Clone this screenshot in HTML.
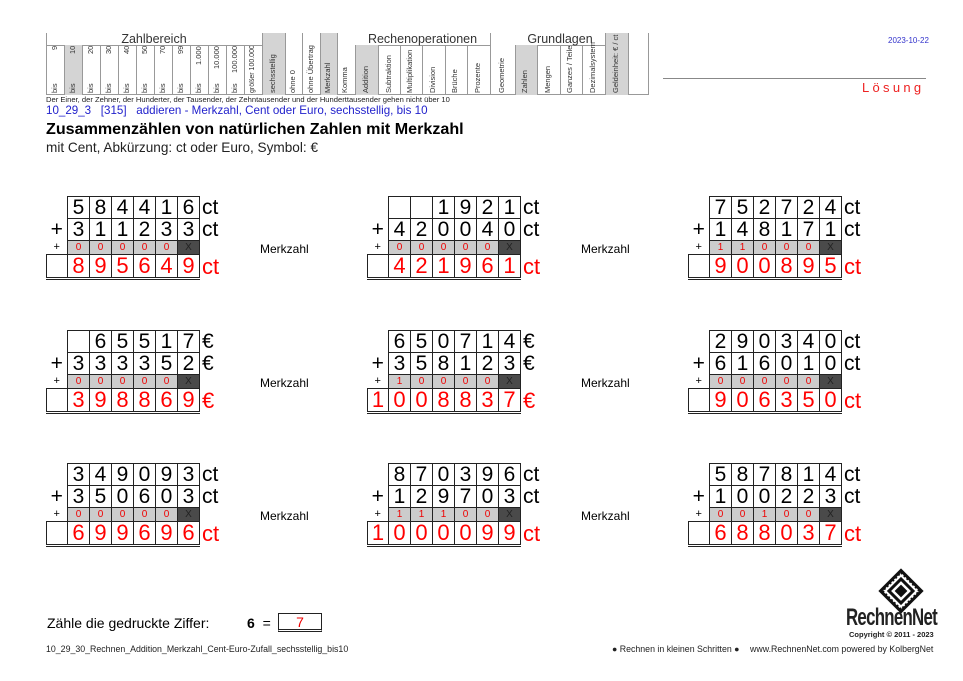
<!DOCTYPE html>
<html><head><meta charset="utf-8">
<style>
*{margin:0;padding:0;box-sizing:border-box}
body{width:963px;height:681px;background:#fff;position:relative;overflow:hidden;font-family:"Liberation Sans",sans-serif;color:#000}
.a{position:absolute;white-space:nowrap}
.col{position:absolute;border-left:1px solid #999;top:45px;height:50px}
.sh{background:#d4d4d4}
.v{position:absolute;writing-mode:vertical-rl;transform:rotate(180deg);font-size:7.5px;color:#333;line-height:1;top:46px;height:47px;text-align:start;overflow:hidden;white-space:nowrap}
.t{text-align:end;height:46px}
table{position:absolute;border-collapse:collapse;font-size:21px;line-height:1}
td{width:22px;height:22px;text-align:center;vertical-align:middle;padding:0}
td.c{border:1px solid #222}
td.l{width:21px;border:none}
td.u{width:30px;text-align:left;padding-left:2px;border:none}
tr.k td{height:14px;font-size:10px;color:#e00}
tr.k td.c{background:#ccc}
tr.k td.x{background:#4a4a4a;color:#222}
tr.r td{color:#f00;font-size:22px}
tr.r td.c, tr.r td.lb{border:1px solid #222;border-bottom:3px double #222}
tr.r td.u{color:#f00}
.mz{position:absolute;font-size:12px}
</style></head><body>

<div class="a" style="left:46px;top:33px;width:603px;height:62px;border:1px solid #999;border-top:none"></div>
<div class="a" style="left:46px;top:45px;width:216px;border-top:1px solid #999"></div>
<div class="a" style="left:355px;top:45px;width:135px;border-top:1px solid #999"></div>
<div class="a" style="left:515px;top:45px;width:90px;border-top:1px solid #999"></div>
<div class="a" style="left:46px;top:32px;width:216px;text-align:center;font-size:12.5px;color:#333">Zahlbereich</div>
<div class="a" style="left:355px;top:32px;width:135px;text-align:center;font-size:12.5px;color:#333">Rechenoperationen</div>
<div class="a" style="left:515px;top:32px;width:90px;text-align:center;font-size:12.5px;color:#333">Grundlagen</div>

<div class="col" style="left:46px;width:18px"></div>
<div class="col sh" style="left:64px;width:18px"></div>
<div class="col" style="left:82px;width:18px"></div>
<div class="col" style="left:100px;width:18px"></div>
<div class="col" style="left:118px;width:18px"></div>
<div class="col" style="left:136px;width:18px"></div>
<div class="col" style="left:154px;width:18px"></div>
<div class="col" style="left:172px;width:18px"></div>
<div class="col" style="left:190px;width:18px"></div>
<div class="col" style="left:208px;width:18px"></div>
<div class="col" style="left:226px;width:18px"></div>
<div class="col" style="left:244px;width:18px"></div>
<div class="col sh" style="left:262px;width:23px;top:33px;height:62px"></div>
<div class="col" style="left:285px;width:17px;top:33px;height:62px"></div>
<div class="col" style="left:302px;width:18px;top:33px;height:62px"></div>
<div class="col sh" style="left:320px;width:17px;top:33px;height:62px"></div>
<div class="col" style="left:337px;width:18px;top:33px;height:62px"></div>
<div class="col sh" style="left:355px;width:23px"></div>
<div class="col" style="left:378px;width:22px"></div>
<div class="col" style="left:400px;width:22px"></div>
<div class="col" style="left:422px;width:23px"></div>
<div class="col" style="left:445px;width:22px"></div>
<div class="col" style="left:467px;width:23px"></div>
<div class="col" style="left:490px;width:25px;top:33px;height:62px"></div>
<div class="col sh" style="left:515px;width:22px"></div>
<div class="col" style="left:537px;width:23px"></div>
<div class="col" style="left:560px;width:22px"></div>
<div class="col" style="left:582px;width:23px"></div>
<div class="col sh" style="left:605px;width:23px;top:33px;height:62px"></div>
<div class="col" style="left:628px;width:21px;top:33px;height:62px"></div>

<div class="v t" style="left:51px">9</div>
<div class="v t" style="left:69px">10</div>
<div class="v t" style="left:87px">20</div>
<div class="v t" style="left:105px">30</div>
<div class="v t" style="left:123px">40</div>
<div class="v t" style="left:141px">50</div>
<div class="v t" style="left:159px">70</div>
<div class="v t" style="left:177px">99</div>
<div class="v t" style="left:195px;height:30px">1.000</div>
<div class="v t" style="left:213px;height:30px">10.000</div>
<div class="v t" style="left:231px;height:33px">100.000</div>
<div class="v" style="left:249px;font-size:7px">größer 100.000</div>
<div class="v" style="left:51px">bis</div>
<div class="v" style="left:69px">bis</div>
<div class="v" style="left:87px">bis</div>
<div class="v" style="left:105px">bis</div>
<div class="v" style="left:123px">bis</div>
<div class="v" style="left:141px">bis</div>
<div class="v" style="left:159px">bis</div>
<div class="v" style="left:177px">bis</div>
<div class="v" style="left:195px">bis</div>
<div class="v" style="left:213px">bis</div>
<div class="v" style="left:231px">bis</div>
<div class="v" style="left:269px">sechsstellig</div>
<div class="v" style="left:289px">ohne 0</div>
<div class="v" style="left:307px;top:35px;height:58px">ohne Übertrag</div>
<div class="v" style="left:324px">Merkzahl</div>
<div class="v" style="left:341px">Komma</div>
<div class="v" style="left:362px">Addition</div>
<div class="v" style="left:385px">Subtraktion</div>
<div class="v" style="left:406px">Multiplikation</div>
<div class="v" style="left:429px">Division</div>
<div class="v" style="left:451px">Brüche</div>
<div class="v" style="left:474px">Prozente</div>
<div class="v" style="left:498px">Geometrie</div>
<div class="v" style="left:521px">Zahlen</div>
<div class="v" style="left:544px">Mengen</div>
<div class="v" style="left:566px">Ganzes / Teile</div>
<div class="v" style="left:589px;top:40px;height:53px">Dezimalsystem</div>
<div class="v" style="left:612px;top:34px;height:59px">Geldeinheit: € / ct</div>

<div class="a" style="left:888px;top:36px;font-size:8px;color:#33c">2023-10-22</div>
<div class="a" style="left:663px;top:78px;width:263px;border-top:1px solid #888"></div>
<div class="a" style="left:862px;top:80px;font-size:13px;color:#e22;letter-spacing:3.3px">Lösung</div>

<div class="a" style="left:46px;top:95px;font-size:7.6px;color:#222">Der Einer, der Zehner, der Hunderter, der Tausender, der Zehntausender und der Hunderttausender gehen nicht über 10</div>
<div class="a" style="left:46px;top:104px;font-size:11.6px;color:#22c">10_29_3 &nbsp; [315] &nbsp; addieren - Merkzahl, Cent oder Euro, sechsstellig, bis 10</div>
<div class="a" style="left:46px;top:120px;font-size:16.1px;font-weight:bold">Zusammenzählen von natürlichen Zahlen mit Merkzahl</div>
<div class="a" style="left:46px;top:140px;font-size:13.6px;color:#222">mit Cent, Abkürzung: ct oder Euro, Symbol: €</div>

<table style="left:46px;top:196px">
<tr><td class="l"></td><td class="c">5</td><td class="c">8</td><td class="c">4</td><td class="c">4</td><td class="c">1</td><td class="c">6</td><td class="u">ct</td></tr>
<tr><td class="l">+</td><td class="c">3</td><td class="c">1</td><td class="c">1</td><td class="c">2</td><td class="c">3</td><td class="c">3</td><td class="u">ct</td></tr>
<tr class="k"><td class="l" style="color:#000;font-size:11px">+</td><td class="c">0</td><td class="c">0</td><td class="c">0</td><td class="c">0</td><td class="c">0</td><td class="c x">X</td><td class="u"></td></tr>
<tr class="r"><td class="l lb"></td><td class="c">8</td><td class="c">9</td><td class="c">5</td><td class="c">6</td><td class="c">4</td><td class="c">9</td><td class="u">ct</td></tr>
</table>
<div class="mz" style="left:260px;top:242px">Merkzahl</div>

<table style="left:367px;top:196px">
<tr><td class="l"></td><td class="c"></td><td class="c"></td><td class="c">1</td><td class="c">9</td><td class="c">2</td><td class="c">1</td><td class="u">ct</td></tr>
<tr><td class="l">+</td><td class="c">4</td><td class="c">2</td><td class="c">0</td><td class="c">0</td><td class="c">4</td><td class="c">0</td><td class="u">ct</td></tr>
<tr class="k"><td class="l" style="color:#000;font-size:11px">+</td><td class="c">0</td><td class="c">0</td><td class="c">0</td><td class="c">0</td><td class="c">0</td><td class="c x">X</td><td class="u"></td></tr>
<tr class="r"><td class="l lb"></td><td class="c">4</td><td class="c">2</td><td class="c">1</td><td class="c">9</td><td class="c">6</td><td class="c">1</td><td class="u">ct</td></tr>
</table>
<div class="mz" style="left:581px;top:242px">Merkzahl</div>

<table style="left:688px;top:196px">
<tr><td class="l"></td><td class="c">7</td><td class="c">5</td><td class="c">2</td><td class="c">7</td><td class="c">2</td><td class="c">4</td><td class="u">ct</td></tr>
<tr><td class="l">+</td><td class="c">1</td><td class="c">4</td><td class="c">8</td><td class="c">1</td><td class="c">7</td><td class="c">1</td><td class="u">ct</td></tr>
<tr class="k"><td class="l" style="color:#000;font-size:11px">+</td><td class="c">1</td><td class="c">1</td><td class="c">0</td><td class="c">0</td><td class="c">0</td><td class="c x">X</td><td class="u"></td></tr>
<tr class="r"><td class="l lb"></td><td class="c">9</td><td class="c">0</td><td class="c">0</td><td class="c">8</td><td class="c">9</td><td class="c">5</td><td class="u">ct</td></tr>
</table>

<table style="left:46px;top:330px">
<tr><td class="l"></td><td class="c"></td><td class="c">6</td><td class="c">5</td><td class="c">5</td><td class="c">1</td><td class="c">7</td><td class="u">€</td></tr>
<tr><td class="l">+</td><td class="c">3</td><td class="c">3</td><td class="c">3</td><td class="c">3</td><td class="c">5</td><td class="c">2</td><td class="u">€</td></tr>
<tr class="k"><td class="l" style="color:#000;font-size:11px">+</td><td class="c">0</td><td class="c">0</td><td class="c">0</td><td class="c">0</td><td class="c">0</td><td class="c x">X</td><td class="u"></td></tr>
<tr class="r"><td class="l lb"></td><td class="c">3</td><td class="c">9</td><td class="c">8</td><td class="c">8</td><td class="c">6</td><td class="c">9</td><td class="u">€</td></tr>
</table>
<div class="mz" style="left:260px;top:376px">Merkzahl</div>

<table style="left:367px;top:330px">
<tr><td class="l"></td><td class="c">6</td><td class="c">5</td><td class="c">0</td><td class="c">7</td><td class="c">1</td><td class="c">4</td><td class="u">€</td></tr>
<tr><td class="l">+</td><td class="c">3</td><td class="c">5</td><td class="c">8</td><td class="c">1</td><td class="c">2</td><td class="c">3</td><td class="u">€</td></tr>
<tr class="k"><td class="l" style="color:#000;font-size:11px">+</td><td class="c">1</td><td class="c">0</td><td class="c">0</td><td class="c">0</td><td class="c">0</td><td class="c x">X</td><td class="u"></td></tr>
<tr class="r"><td class="l lb">1</td><td class="c">0</td><td class="c">0</td><td class="c">8</td><td class="c">8</td><td class="c">3</td><td class="c">7</td><td class="u">€</td></tr>
</table>
<div class="mz" style="left:581px;top:376px">Merkzahl</div>

<table style="left:688px;top:330px">
<tr><td class="l"></td><td class="c">2</td><td class="c">9</td><td class="c">0</td><td class="c">3</td><td class="c">4</td><td class="c">0</td><td class="u">ct</td></tr>
<tr><td class="l">+</td><td class="c">6</td><td class="c">1</td><td class="c">6</td><td class="c">0</td><td class="c">1</td><td class="c">0</td><td class="u">ct</td></tr>
<tr class="k"><td class="l" style="color:#000;font-size:11px">+</td><td class="c">0</td><td class="c">0</td><td class="c">0</td><td class="c">0</td><td class="c">0</td><td class="c x">X</td><td class="u"></td></tr>
<tr class="r"><td class="l lb"></td><td class="c">9</td><td class="c">0</td><td class="c">6</td><td class="c">3</td><td class="c">5</td><td class="c">0</td><td class="u">ct</td></tr>
</table>

<table style="left:46px;top:463px">
<tr><td class="l"></td><td class="c">3</td><td class="c">4</td><td class="c">9</td><td class="c">0</td><td class="c">9</td><td class="c">3</td><td class="u">ct</td></tr>
<tr><td class="l">+</td><td class="c">3</td><td class="c">5</td><td class="c">0</td><td class="c">6</td><td class="c">0</td><td class="c">3</td><td class="u">ct</td></tr>
<tr class="k"><td class="l" style="color:#000;font-size:11px">+</td><td class="c">0</td><td class="c">0</td><td class="c">0</td><td class="c">0</td><td class="c">0</td><td class="c x">X</td><td class="u"></td></tr>
<tr class="r"><td class="l lb"></td><td class="c">6</td><td class="c">9</td><td class="c">9</td><td class="c">6</td><td class="c">9</td><td class="c">6</td><td class="u">ct</td></tr>
</table>
<div class="mz" style="left:260px;top:509px">Merkzahl</div>

<table style="left:367px;top:463px">
<tr><td class="l"></td><td class="c">8</td><td class="c">7</td><td class="c">0</td><td class="c">3</td><td class="c">9</td><td class="c">6</td><td class="u">ct</td></tr>
<tr><td class="l">+</td><td class="c">1</td><td class="c">2</td><td class="c">9</td><td class="c">7</td><td class="c">0</td><td class="c">3</td><td class="u">ct</td></tr>
<tr class="k"><td class="l" style="color:#000;font-size:11px">+</td><td class="c">1</td><td class="c">1</td><td class="c">1</td><td class="c">0</td><td class="c">0</td><td class="c x">X</td><td class="u"></td></tr>
<tr class="r"><td class="l lb">1</td><td class="c">0</td><td class="c">0</td><td class="c">0</td><td class="c">0</td><td class="c">9</td><td class="c">9</td><td class="u">ct</td></tr>
</table>
<div class="mz" style="left:581px;top:509px">Merkzahl</div>

<table style="left:688px;top:463px">
<tr><td class="l"></td><td class="c">5</td><td class="c">8</td><td class="c">7</td><td class="c">8</td><td class="c">1</td><td class="c">4</td><td class="u">ct</td></tr>
<tr><td class="l">+</td><td class="c">1</td><td class="c">0</td><td class="c">0</td><td class="c">2</td><td class="c">2</td><td class="c">3</td><td class="u">ct</td></tr>
<tr class="k"><td class="l" style="color:#000;font-size:11px">+</td><td class="c">0</td><td class="c">0</td><td class="c">1</td><td class="c">0</td><td class="c">0</td><td class="c x">X</td><td class="u"></td></tr>
<tr class="r"><td class="l lb"></td><td class="c">6</td><td class="c">8</td><td class="c">8</td><td class="c">0</td><td class="c">3</td><td class="c">7</td><td class="u">ct</td></tr>
</table>

<div class="a" style="left:47px;top:615px;font-size:14px">Zähle die gedruckte Ziffer:</div>
<div class="a" style="left:247px;top:615px;font-size:14px"><b>6</b> &nbsp;=</div>
<div class="a" style="left:278px;top:613px;width:44px;height:19px;border:1px solid #222;border-bottom:3px double #222;text-align:center;color:#e00;font-size:14px;line-height:17px">7</div>
<div class="a" style="left:46px;top:644px;font-size:8.8px;color:#222">10_29_30_Rechnen_Addition_Merkzahl_Cent-Euro-Zufall_sechsstellig_bis10</div>

<svg class="a" style="left:876px;top:566px" width="50" height="50" viewBox="0 0 50 50">
<g transform="rotate(45 25 25)">
<rect x="9" y="9" width="32" height="32" fill="#111"/>
<rect x="12" y="12" width="26" height="26" fill="#fff" stroke="#111" stroke-width="2" stroke-dasharray="2 2"/>
<rect x="15" y="15" width="20" height="20" fill="#111"/>
<rect x="18" y="18" width="14" height="14" fill="#fff"/>
<rect x="20.5" y="20.5" width="9" height="9" fill="#111"/>
</g></svg>
<div class="a" style="left:846px;top:604px;font-size:24px;font-weight:bold;letter-spacing:-1px;transform:scaleX(0.7);transform-origin:left;color:#222">RechnenNet</div>
<div class="a" style="left:849px;top:630px;font-size:7.5px;font-weight:bold;color:#222">Copyright © 2011 - 2023</div>
<div class="a" style="left:612px;top:644px;font-size:8.8px;color:#222">● Rechnen in kleinen Schritten ●</div>
<div class="a" style="left:750px;top:644px;width:176px;text-align:right;font-size:8.8px;color:#222">www.RechnenNet.com powered by KolbergNet</div>
</body></html>
